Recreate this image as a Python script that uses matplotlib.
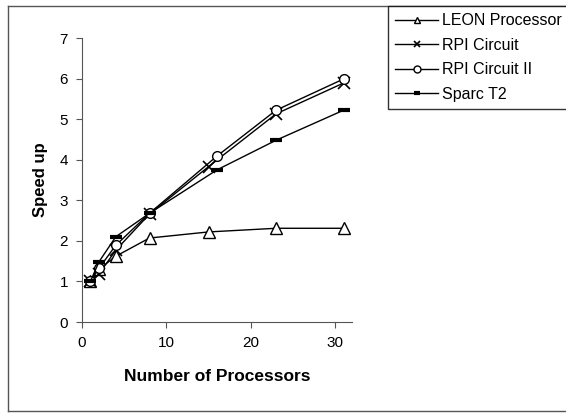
import matplotlib
matplotlib.use("Agg")
import matplotlib.pyplot as plt
from matplotlib.lines import Line2D

plt.rcParams['font.family'] = ['Liberation Sans', 'DejaVu Sans']

# datos
leon_x = [1, 2, 4, 8, 15, 23, 31]
leon_y = [1.0, 1.3, 1.62, 2.07, 2.22, 2.31, 2.31]
rpi_x = [1, 2, 4, 8, 15, 23, 31]
rpi_y = [1.0, 1.18, 1.77, 2.66, 3.83, 5.13, 5.89]
rpi2_x = [1, 2, 4, 8, 16, 23, 31]
rpi2_y = [1.0, 1.32, 1.89, 2.68, 4.09, 5.22, 5.99]
sparc_x = [1, 2, 4, 8, 16, 23, 31]
sparc_y = [1.0, 1.48, 2.1, 2.68, 3.75, 4.48, 5.22]

W, H = 566, 413
fig = plt.figure(figsize=(W / 100, H / 100), dpi=100)
ax = fig.add_axes([82 / W, 1 - 322 / H, 270 / W, 284 / H])

ax.plot(leon_x, leon_y, color='black', lw=1, marker='^', ms=8, mfc='white', mec='black', label='LEON Processor')
ax.plot(rpi_x, rpi_y, color='black', lw=1, marker='x', ms=8, mew=1.2, label='RPI Circuit')
ax.plot(rpi2_x, rpi2_y, color='black', lw=1, marker='o', ms=7, mfc='white', mec='black', label='RPI Circuit II')
ax.plot(sparc_x, sparc_y, color='black', lw=1, marker='_', ms=9, mew=3, label='Sparc T2')

ax.set_xlim(0, 32)
ax.set_ylim(0, 7)
ax.set_xticks([0, 10, 20, 30])
ax.set_yticks(range(8))
for s in ['top', 'right']:
    ax.spines[s].set_visible(False)
for s in ['left', 'bottom']:
    ax.spines[s].set_color('#555555')
ax.tick_params(labelsize=11, length=4, color='#555555', pad=6)
ax.set_xlabel('Number of Processors', fontsize=12.5, fontweight='bold', labelpad=14)
ax.set_ylabel('Speed up', fontsize=12, fontweight='bold', labelpad=8)

# marco exterior (solo izquierda, arriba y abajo)
fx = [8 / W, 8 / W]
for xs, ys in [([8 / W, 8 / W], [2 / H, 1 - 6 / H]),
               ([8 / W, 1.0], [1 - 6 / H, 1 - 6 / H]),
               ([8 / W, 1.0], [2 / H, 2 / H])]:
    fig.add_artist(Line2D(xs, ys, transform=fig.transFigure, color='#555555', lw=1))

leg = fig.legend(loc='upper left', bbox_to_anchor=(388 / W, 0, 200 / W, 1 - 6 / H),
                 mode='expand', fontsize=11.5, frameon=True, fancybox=False,
                 edgecolor='black', borderaxespad=0, handlelength=2.7,
                 labelspacing=0.6, borderpad=0.45, handletextpad=0.2)
leg.get_frame().set_linewidth(1)
for h in leg.legend_handles:
    h.set_markersize(5)

fig.savefig('out.png', dpi=100)
